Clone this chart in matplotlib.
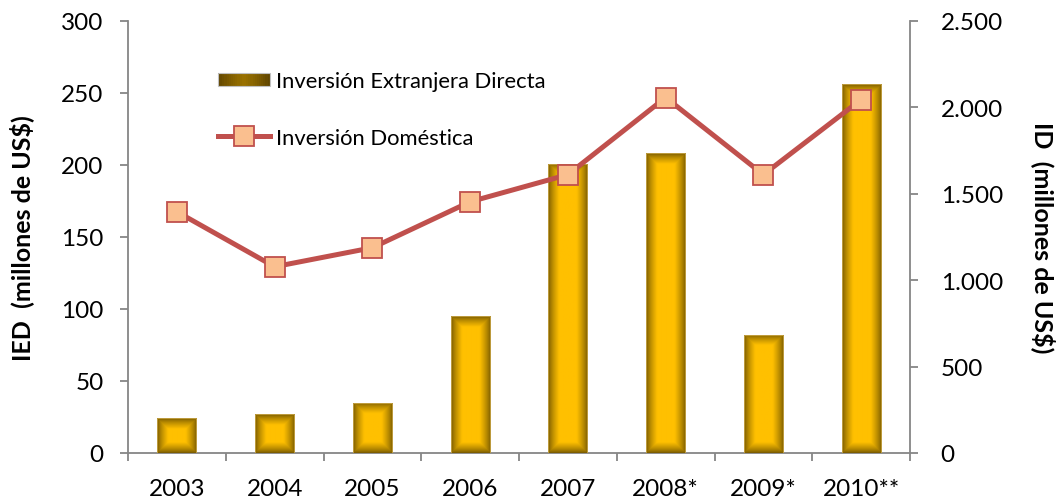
import numpy as np
import matplotlib
matplotlib.use("Agg")
import matplotlib.pyplot as plt
from matplotlib.ticker import FuncFormatter, FixedLocator
from matplotlib.patches import Rectangle, Patch
from matplotlib.legend_handler import HandlerBase

plt.rcParams['font.family'] = ['Lato', 'DejaVu Sans']

years = ["2003", "2004", "2005", "2006", "2007", "2008*", "2009*", "2010**"]
ied = [24, 27, 35, 95, 201, 208, 82, 256]
id_dom = [1396, 1078, 1188, 1454, 1611, 2057, 1611, 2045]

label_ied = "Inversión Extranjera Directa"
label_id = "Inversión Doméstica"
ylabel_left = "IED  (millones de US$)"
ylabel_right = "ID  (millones de US$)"

GRAY = '#868686'
BRIGHT = np.array([255, 192, 0]) / 255
DARK = np.array([112, 84, 0]) / 255
TICKFS = 17.5

fig = plt.figure(figsize=(10.62, 5.02), dpi=100)
ax = fig.add_axes([128/1062, 48/502, 782/1062, 432/502])
x = np.arange(len(years))

bars = ax.bar(x, ied, width=0.4, color='#FFC000', edgecolor='none', zorder=2)
ax.set_xlim(-0.5, len(years) - 0.5)
ax.set_ylim(0, 300)
ax.set_yticks(np.arange(0, 301, 50))
ax.set_autoscale_on(False)

# gradient fill of every bar
for rect in bars.patches:
    x0, y0 = rect.get_x(), rect.get_y()
    w, h = rect.get_width(), rect.get_height()
    p0 = ax.transData.transform((x0, y0))
    p1 = ax.transData.transform((x0 + w, y0 + h))
    W = max(int(round(abs(p1[0] - p0[0]))), 2)
    H = max(int(round(abs(p1[1] - p0[1]))), 2)
    xs = np.arange(W) + 0.5
    ys = np.arange(H) + 0.5
    dx = np.minimum(xs, W - xs)[None, :]
    dy = np.minimum(ys, H - ys)[:, None]
    d = np.minimum(np.broadcast_to(dx, (H, W)), np.broadcast_to(dy, (H, W)))
    t = np.clip(d / 11.0, 0, 1) ** 0.75
    img = DARK[None, None, :] + (BRIGHT - DARK)[None, None, :] * t[:, :, None]
    im = ax.imshow(img, extent=(x0, x0 + w, y0, y0 + h), aspect='auto',
                   interpolation='bilinear', zorder=3, origin='lower')
    im.set_clip_path(rect)
    ax.add_patch(Rectangle((x0, y0), w, h, facecolor='none', edgecolor='#C9A64A',
                           lw=0.6, zorder=4))

# axes styling
ax.spines['top'].set_visible(False)
ax.spines['right'].set_visible(False)
ax.spines['left'].set_color(GRAY)
ax.spines['bottom'].set_color(GRAY)
ax.spines['left'].set_linewidth(1.3)
ax.spines['bottom'].set_linewidth(1.3)

ax.set_xticks(x)
ax.set_xticklabels(years, fontsize=TICKFS)
ax.xaxis.set_minor_locator(FixedLocator(np.arange(-0.5, len(years), 1.0)))
ax.tick_params(axis='x', which='major', length=0, pad=18)
ax.tick_params(axis='x', which='minor', length=6, width=1.3, color=GRAY, direction='out')
ax.tick_params(axis='y', length=6, width=1.3, color=GRAY, labelsize=TICKFS, pad=11.5)

ax.set_ylabel(ylabel_left, fontsize=18, fontweight='bold', va='center')
ax.yaxis.set_label_coords(-0.136, 0.5)

ax2 = ax.twinx()
ax2.plot(x, id_dom, color='#C0504D', lw=3.6, marker='s', markersize=14.5,
         markerfacecolor='#FABF8F', markeredgecolor='#C0504D', markeredgewidth=1.3,
         zorder=5)
ax2.set_ylim(0, 2500)
ax2.set_yticks(np.arange(0, 2501, 500))
ax2.yaxis.set_major_formatter(FuncFormatter(lambda v, p: f"{int(v):,}".replace(',', '.')))
for s in ['top', 'left', 'bottom']:
    ax2.spines[s].set_visible(False)
ax2.spines['right'].set_color(GRAY)
ax2.spines['right'].set_linewidth(1.3)
ax2.tick_params(axis='y', length=6, width=1.3, color=GRAY, labelsize=TICKFS, pad=16)
ax2.set_ylabel(ylabel_right, fontsize=18, fontweight='bold', rotation=270, va='center')
ax2.yaxis.set_label_coords(1.171, 0.5)


class GradHandler(HandlerBase):
    def create_artists(self, legend, orig_handle, xdescent, ydescent, width, height, fontsize, trans):
        arts = []
        n = 24
        x0 = -xdescent
        y0 = -ydescent
        hgt = height * 0.72
        yy = y0 + (height - hgt) / 2
        ldark = np.array([92, 66, 0]) / 255
        lmid = np.array([155, 115, 0]) / 255
        for i in range(n):
            c = (i + 0.5) / n
            tt = 1 - abs(c - 0.5) * 2
            col = ldark + (lmid - ldark) * tt ** 0.8
            r = Rectangle((x0 + width * i / n, yy), width / n + 0.3, hgt,
                          facecolor=col, edgecolor='none', transform=trans)
            arts.append(r)
        border = Rectangle((x0, yy), width, hgt, facecolor='none',
                           edgecolor='#BFBFBF', lw=0.8, transform=trans)
        arts.append(border)
        return arts


bar_proxy = Patch(facecolor='#8D6B00', label=label_ied)
line_handle = ax2.get_lines()[0]
leg = ax2.legend([bar_proxy, line_handle], [label_ied, label_id],
                 handler_map={Patch: GradHandler()},
                 loc='upper left', bbox_to_anchor=(218/1062, 1 - 71/502),
                 bbox_transform=fig.transFigure, frameon=False, fontsize=15.8,
                 borderpad=0, borderaxespad=0, handlelength=2.36, handleheight=0.9,
                 handletextpad=0.27, labelspacing=1.68, numpoints=1)

fig.savefig('out.png', dpi=100)
